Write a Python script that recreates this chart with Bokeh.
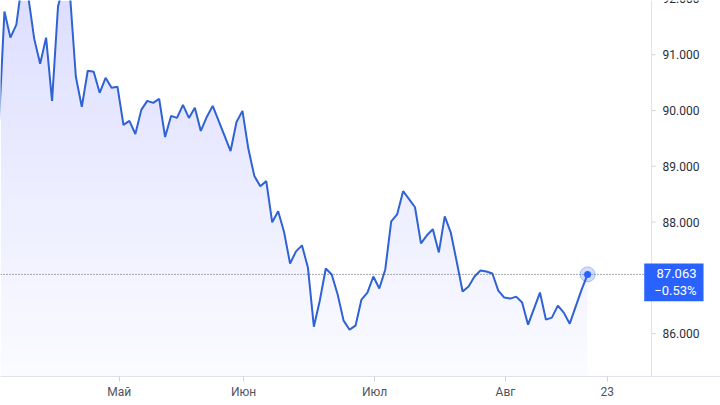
import numpy as np
from bokeh.plotting import figure
from bokeh.models import FixedTicker, Label, Span
from bokeh.core.properties import value
from bokeh.embed import file_html
from bokeh.resources import INLINE

# Daily closing prices (trading days)
prices = [
    89.615, 91.773, 91.306, 91.540, 92.331, 92.043, 91.288, 90.838, 91.306, 90.173,
    91.863, 92.277, 92.097, 90.604, 90.065, 90.712, 90.694, 90.317, 90.586, 90.406,
    90.424, 89.741, 89.813, 89.579, 90.011, 90.173, 90.137, 90.209, 89.525, 89.903,
    89.867, 90.101, 89.867, 90.047, 89.633, 89.885, 90.083, 89.813, 89.543, 89.273,
    89.795, 89.993, 89.309, 88.824, 88.644, 88.734, 87.996, 88.194, 87.817, 87.259,
    87.475, 87.583, 87.187, 86.126, 86.594, 87.169, 87.061, 86.701, 86.234, 86.072,
    86.144, 86.612, 86.737, 87.025, 86.809, 87.151, 88.014, 88.140, 88.554, 88.410,
    88.266, 87.619, 87.763, 87.871, 87.457, 88.104, 87.817, 87.295, 86.755, 86.845,
    87.025, 87.133, 87.115, 87.079, 86.773, 86.647, 86.629, 86.665, 86.558, 86.162,
    86.450, 86.737, 86.252, 86.288, 86.504, 86.378, 86.180, 86.486, 86.791, 87.063,
]
days = list(range(len(prices)))

month_labels = ["Май", "Июн", "Июл", "Авг", "23"]
month_ticks = [20.3, 41.2, 63.2, 85.2, 102.3]
price_ticks = [86, 87, 88, 89, 90, 91, 92]
last_change_pct = -0.53

BLUE = "#2962ff"
LINE = "#2f62d4"
AXIS = "#e0e3eb"
Y0, Y1 = 85.233, 91.971
X0, X1 = 0.336, 121.34
SCALE_X = 109.75          # position of the price scale border (right edge of the pane)
PX = (X1 - X0) / 720.0    # one screen pixel in x units

p = figure(
    width=720, height=405, output_backend="svg", toolbar_location=None,
    x_range=(X0, X1), y_range=(Y0, Y1), y_axis_location=None,
    min_border_left=0, min_border_top=0, min_border_right=0, min_border_bottom=29,
)
p.outline_line_color = None
p.grid.visible = False
p.background_fill_color = "white"
p.border_fill_color = "white"

# gradient-like area fill (stacked translucent layers)
pr = np.array(prices)
p.varea(x=days, y1=Y0, y2=pr, fill_color=BLUE, fill_alpha=0.02)
for lvl in np.linspace(Y0, 92.0, 30):
    p.varea(x=days, y1=lvl, y2=np.maximum(pr, lvl), fill_color=BLUE, fill_alpha=0.005)

p.line(days, prices, line_color=LINE, line_width=2)

last = prices[-1]
# dotted last-price line across the pane
p.segment(x0=[X0], y0=[last], x1=[SCALE_X], y1=[last], line_color="#50535e",
          line_dash="1 2", line_width=1)

p.scatter([days[-1]], [last], size=15, fill_color=BLUE, fill_alpha=0.22,
          line_color=BLUE, line_alpha=0.35, line_width=1)
p.scatter([days[-1]], [last], size=7, fill_color=BLUE, line_color=None)

# price scale on the right
p.add_layout(Span(location=SCALE_X, dimension="height", line_color=AXIS, line_width=1))
p.segment(x0=[SCALE_X] * len(price_ticks), y0=price_ticks,
          x1=[SCALE_X + 4 * PX] * len(price_ticks), y1=price_ticks,
          line_color="#d0d3db", line_width=1)
p.text(x=[SCALE_X + 11 * PX] * len(price_ticks), y=price_ticks,
       text=[f"{t:.3f}" for t in price_ticks],
       text_font=value("Roboto"), text_font_size="12px", text_color="#2a2e39",
       text_align="left", text_baseline="middle")

# time axis
xa = p.xaxis[0]
xa.ticker = FixedTicker(ticks=month_ticks)
xa.major_label_overrides = {t: l for t, l in zip(month_ticks, month_labels)}
xa.axis_line_color = AXIS
xa.major_tick_line_color = "#d0d3db"
xa.major_tick_out = 5
xa.major_tick_in = 0
xa.minor_tick_line_color = None
xa.major_label_text_font = "Roboto"
xa.major_label_text_font_size = "12px"
xa.major_label_text_color = "#50535e"
xa.major_label_standoff = 3

sign = "\u2212" if last_change_pct < 0 else "+"
lbl = Label(
    x=SCALE_X + 52 * PX, y=last, x_units="data", y_units="data",
    text=f"{last:.3f}\n{sign}{abs(last_change_pct):.2f}%",
    text_color="white", text_font="Roboto", text_font_size="13px",
    text_align="right", text_baseline="middle", text_line_height=1.12,
    background_fill_color=BLUE, background_fill_alpha=1.0,
    padding=dict(left=10, right=7, top=3, bottom=3),
    y_offset=-8,
)
p.add_layout(lbl)

open("out.html", "w").write(file_html(p, INLINE))
